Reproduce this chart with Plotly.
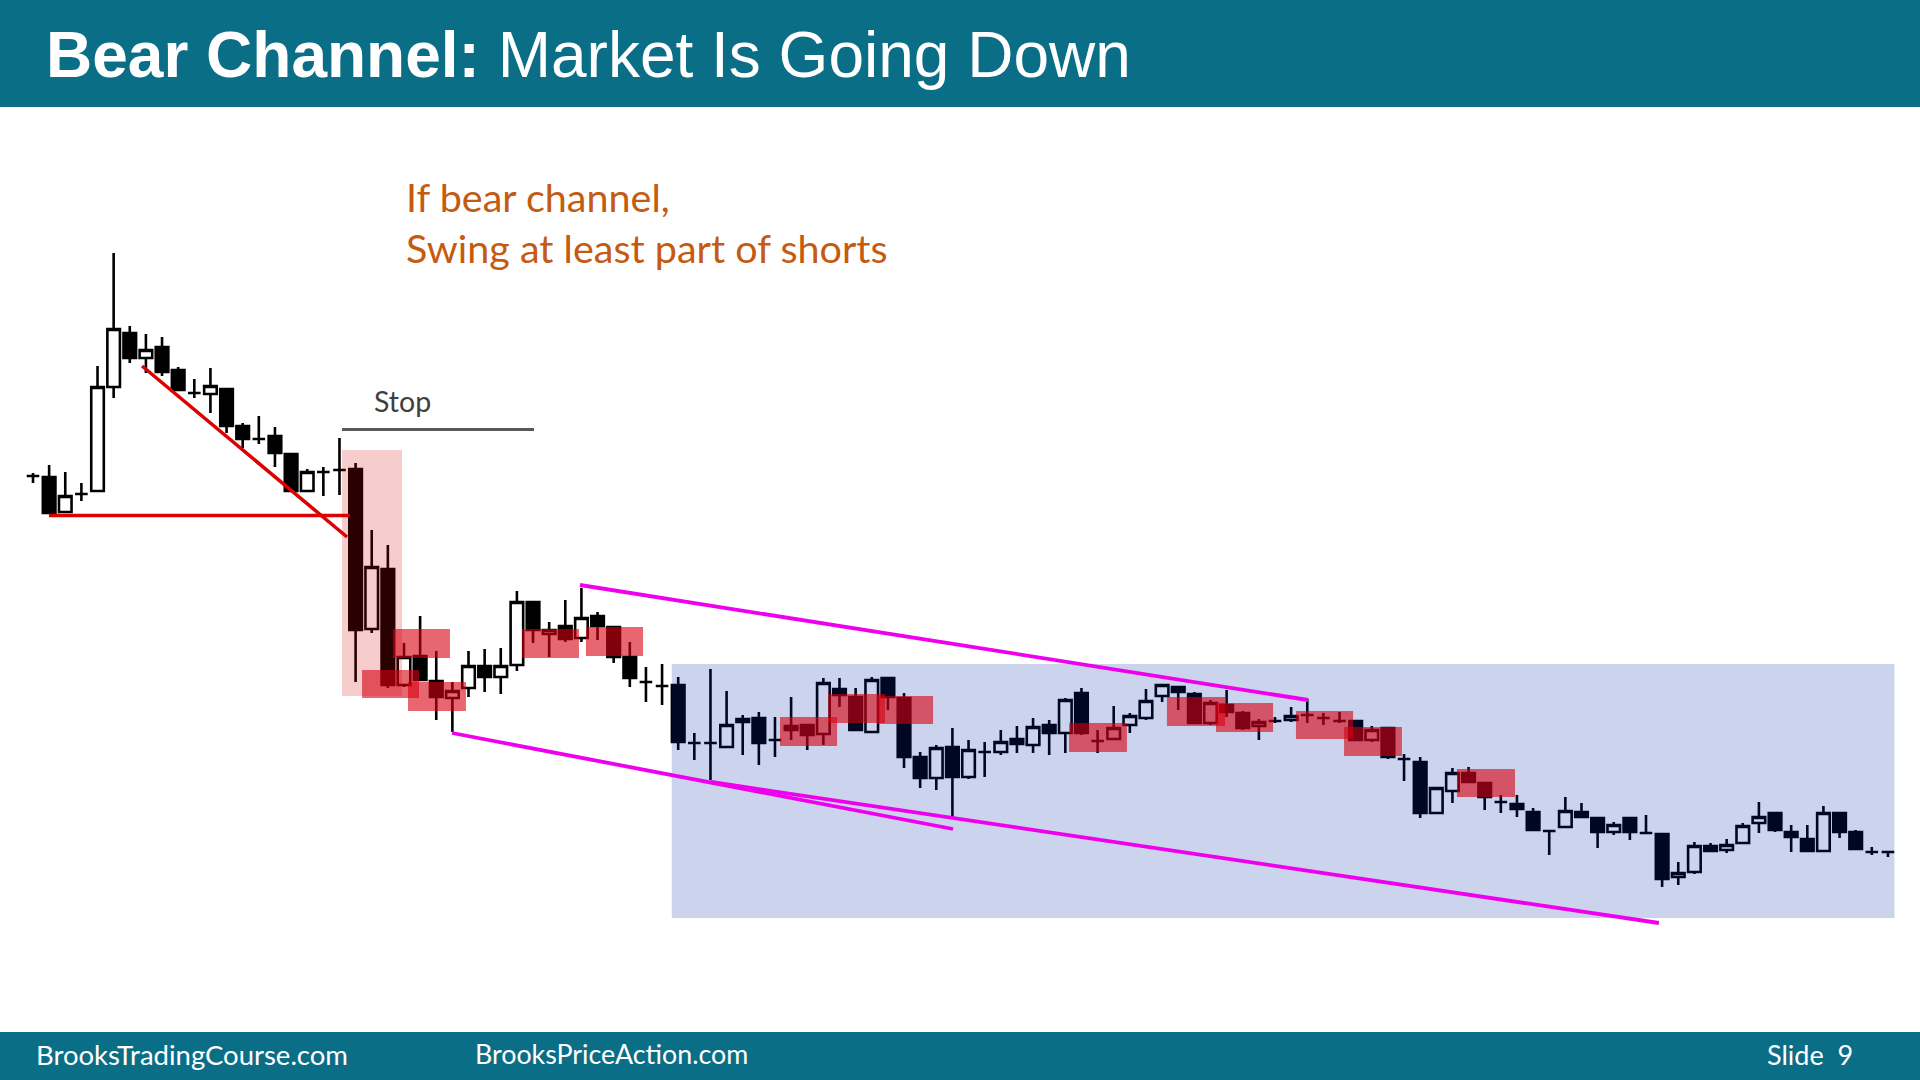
import plotly.graph_objects as go

# ---------------- data (bar index, price in chart points) ----------------
open_ = [524,523,488,506,509,613,667,642,653,630,607,606,611,574,561,564,546,509,528,530,
         531,371,431,315,344,319,302,312,334,323,335,398,366,374,362,384,373,343,318,314,
         315,257,257,253,281,282,260,274,275,266,311,303,268,322,302,243,222,253,223,248,
         248,261,255,275,267,307,259,261,275,282,304,313,306,277,295,287,274,279,280,285,
         282,279,279,260,272,241,238,187,209,227,217,198,196,188,169,173,188,182,168,182,
         167,166,123,128,154,150,157,177,187,168,161,149,187,168,148,148]
high = [527,535,528,517,634,747,674,666,663,633,621,632,611,577,584,573,547,531,533,562,
        537,470,455,357,384,349,318,349,351,352,409,398,378,400,412,388,373,358,333,336,
        323,267,331,309,285,288,283,303,275,322,322,312,323,323,307,248,255,272,260,258,
        270,274,282,280,302,312,270,294,287,311,316,313,308,300,310,289,281,283,293,301,
        287,288,279,274,272,246,243,212,232,233,217,205,205,192,170,203,197,182,178,183,
        185,167,138,158,157,161,177,198,187,175,175,194,187,170,153,149]
low = [517,487,488,499,509,602,637,627,624,610,602,587,567,552,556,533,509,509,504,505,
       318,367,312,313,320,280,268,303,308,306,329,357,343,358,358,360,337,313,298,295,
       250,240,220,252,245,235,243,260,250,255,293,270,267,290,232,212,210,183,221,223,
       245,247,247,245,247,265,247,260,267,280,298,290,277,275,283,270,260,277,278,277,
       275,277,260,258,241,219,182,187,197,218,190,187,183,170,145,173,183,152,165,160,
       166,113,115,126,148,147,156,167,168,148,148,149,162,151,145,143]
close = [524,487,504,506,613,671,642,650,628,610,607,614,574,561,561,547,509,528,528,530,
         370,433,315,343,320,303,309,334,323,334,398,370,370,361,382,374,343,322,318,314,
         258,257,257,275,278,257,260,270,265,317,305,270,320,303,243,222,252,223,250,248,
         258,256,273,267,300,267,259,272,284,299,315,308,277,297,288,272,278,279,284,285,
         282,279,260,270,243,241,187,212,227,218,203,198,191,170,169,189,183,168,175,168,
         167,121,127,154,149,155,174,183,170,163,149,187,168,151,148,148]
bars = list(range(len(close)))

# highlighted zones (start bar, end bar, low price, high price)
zone_x0 = [22.32, 20.40, 23.25, 30.32, 34.28, 46.31, 49.29, 52.33, 64.23, 70.30, 73.34, 78.30, 81.28, 88.28]
zone_x1 = [25.85, 23.93, 26.84, 33.85, 37.82, 49.85, 52.82, 55.80, 67.82, 73.90, 76.88, 81.84, 84.87, 91.88]
zone_lo = [342, 302, 289, 342, 344, 254, 277, 276, 248, 274, 268, 261, 244, 203]
zone_hi = [371, 330, 318, 371, 373, 283, 306, 304, 277, 303, 297, 289, 273, 231]

spike_zone = [19.16, 22.88, 304, 550]          # x0, x1, low, high
channel_zone = [39.6, 115.4, 82, 336]          # x0, x1, low, high

# channel lines (x0, y0, x1, y1)
channel_top = [33.91, 415, 79.05, 300]
channel_bottom_a = [25.98, 267, 57.04, 171]
channel_bottom_b = [42.03, 218, 100.8, 77]
red_support = [0.99, 484.5, 19.65, 484.5]
red_trend = [6.76, 634, 19.47, 463]
stop_level = [19.16, 570.5, 31.06, 570.5]

# ---------------- figure ----------------
W, H = 1920, 1080
BAR0_PX, BAR_PX = 33.0, 16.13     # pixel position of bar 0, pixel per bar
PRICE_TOP = 1000.0                # price at top edge, 1 price pt per pixel

fig = go.Figure()
fig.add_trace(go.Candlestick(
    x=bars, open=open_, high=high, low=low, close=close,
    increasing=dict(fillcolor="#FFFFFF", line=dict(color="#000000", width=2.6)),
    decreasing=dict(fillcolor="#000000", line=dict(color="#000000", width=2.6)),
    whiskerwidth=0, hoverinfo="skip", showlegend=False,
))

shapes = []
# title and footer bars (layout decoration)
TEAL = "#0B6E87"
shapes.append(dict(type="rect", xref="paper", yref="paper", x0=0, x1=1,
                   y0=1 - 107 / H, y1=1, fillcolor=TEAL, line=dict(width=0), layer="below"))
shapes.append(dict(type="rect", xref="paper", yref="paper", x0=0, x1=1,
                   y0=0, y1=(H - 1032) / H, fillcolor=TEAL, line=dict(width=0), layer="below"))

# spike zone
shapes.append(dict(type="rect", xref="x", yref="y", x0=spike_zone[0], x1=spike_zone[1],
                   y0=spike_zone[2], y1=spike_zone[3],
                   fillcolor="rgba(210,0,0,0.2)", line=dict(width=0), layer="above"))
# channel zone
shapes.append(dict(type="rect", xref="x", yref="y", x0=channel_zone[0], x1=channel_zone[1],
                   y0=channel_zone[2], y1=channel_zone[3],
                   fillcolor="rgba(0,35,160,0.2)", line=dict(width=0), layer="above"))
# red zones
for a, b, lo, hi in zip(zone_x0, zone_x1, zone_lo, zone_hi):
    shapes.append(dict(type="rect", xref="x", yref="y", x0=a, x1=b, y0=lo, y1=hi,
                       fillcolor="rgba(215,0,15,0.6)", line=dict(width=0), layer="above"))


def seg(p, color, width):
    return dict(type="line", xref="x", yref="y", x0=p[0], y0=p[1], x1=p[2], y1=p[3],
                line=dict(color=color, width=width), layer="above")


shapes.append(seg(red_support, "#DD0000", 3.5))
shapes.append(seg(red_trend, "#DD0000", 3.5))
shapes.append(seg(stop_level, "#595959", 3))
for ln in (channel_top, channel_bottom_a, channel_bottom_b):
    shapes.append(seg(ln, "#EE00EE", 3.8))


def px(x):
    return x / W


def py(y):
    return 1 - y / H


CAL = "Lato, 'Open Sans', sans-serif"
annotations = [
    dict(text="<b>Bear Channel:</b> Market Is Going Down", x=px(44), y=py(55),
         font=dict(family="'Liberation Sans', Arial, sans-serif", size=64, color="#FFFFFF")),
    dict(text="If bear channel,<br>Swing at least part of shorts", x=px(404), y=py(221.5),
         font=dict(family=CAL, size=39.5, color="#C55A11"), align="left"),
    dict(text="Stop", x=px(372), y=py(401),
         font=dict(family=CAL, size=28.5, color="#404040")),
    dict(text="BrooksTradingCourse.com", x=px(34), y=py(1054),
         font=dict(family=CAL, size=27.5, color="#FFFFFF")),
    dict(text="BrooksPriceAction.com", x=px(473), y=py(1054),
         font=dict(family=CAL, size=26.8, color="#FFFFFF")),
    dict(text="Slide  9", x=px(1765), y=py(1054),
         font=dict(family=CAL, size=27, color="#FFFFFF")),
]
for a in annotations:
    a.update(xref="paper", yref="paper", xanchor="left", yanchor="middle", showarrow=False)

fig.update_layout(
    width=W, height=H,
    margin=dict(l=0, r=0, t=0, b=0),
    paper_bgcolor="#FFFFFF", plot_bgcolor="#FFFFFF",
    boxgap=0.22, boxgroupgap=0,
    shapes=shapes, annotations=annotations,
    showlegend=False,
    xaxis=dict(range=[-BAR0_PX / BAR_PX, (W - BAR0_PX) / BAR_PX], visible=False,
               showgrid=False, zeroline=False, fixedrange=True,
               rangeslider=dict(visible=False)),
    yaxis=dict(range=[PRICE_TOP - H, PRICE_TOP], visible=False,
               showgrid=False, zeroline=False, fixedrange=True),
)

fig.write_html(
    "out.html",
    config=dict(displayModeBar=False),
    post_script="document.body.style.margin='0';document.body.style.padding='0';"
                "document.body.style.overflow='hidden';",
)
